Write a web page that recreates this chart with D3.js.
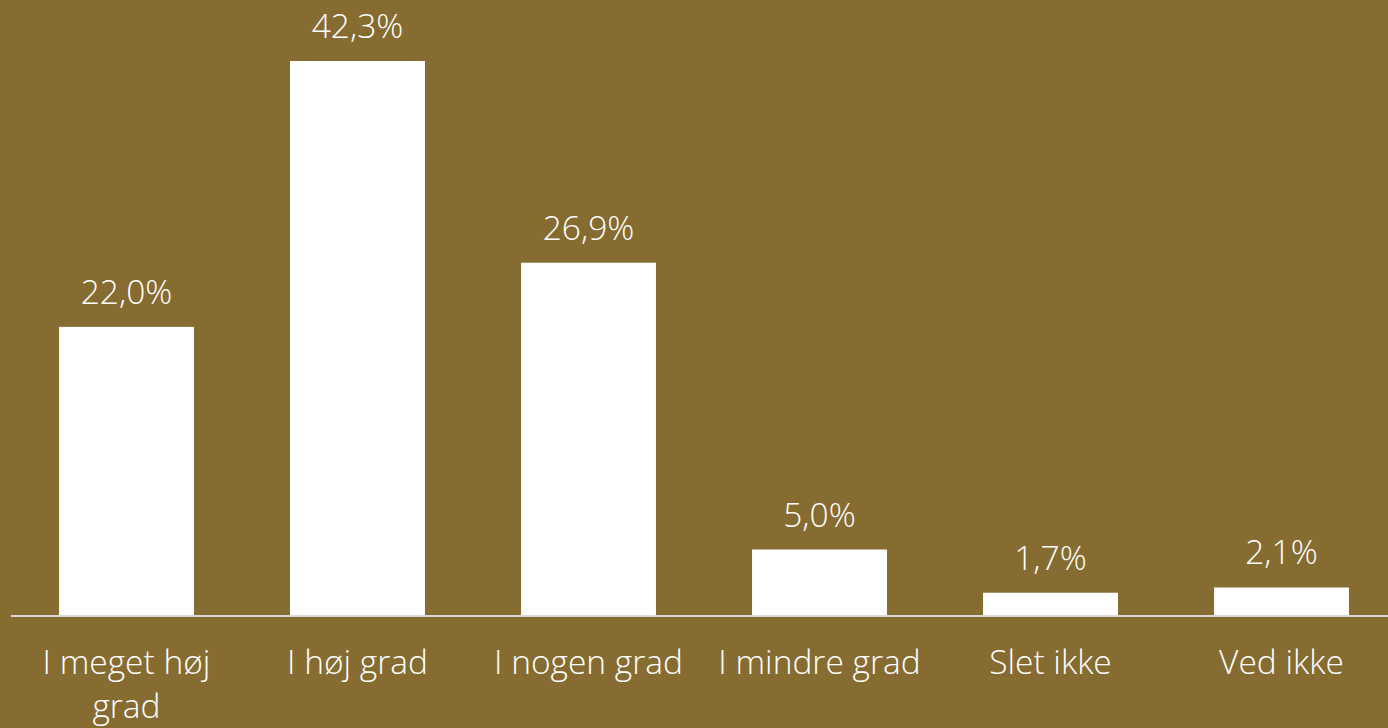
<!DOCTYPE html>
<html>
<head>
<meta charset="utf-8">
<script src="https://cdn.jsdelivr.net/npm/d3@7"></script>
<style>
  html, body { margin: 0; padding: 0; background: #866C30; }
  svg { display: block; }
  text { font-family: "Open Sans", sans-serif; font-weight: 300; fill: #ffffff; }
</style>
</head>
<body>
<svg id="chart" width="1388" height="728"></svg>
<script>
const categories = ["I meget høj grad", "I høj grad", "I nogen grad", "I mindre grad", "Slet ikke", "Ved ikke"];
const values = [22.0, 42.3, 26.9, 5.0, 1.7, 2.1];
const valueLabels = ["22,0%", "42,3%", "26,9%", "5,0%", "1,7%", "2,1%"];

const W = 1388, H = 728;
const svg = d3.select("#chart");
svg.append("rect").attr("width", W).attr("height", H).attr("fill", "#866C30");

const x = d3.scaleBand().domain(categories).range([11, 1397]).paddingInner(0.416).paddingOuter(0.208);
const y = d3.scaleLinear().domain([0, 42.3]).range([615, 61]);

const data = categories.map((c, i) => ({ c, v: values[i], l: valueLabels[i] }));

svg.selectAll("rect.bar").data(data).enter().append("rect")
  .attr("class", "bar")
  .attr("x", d => x(d.c))
  .attr("width", x.bandwidth())
  .attr("y", d => y(d.v))
  .attr("height", d => y(0) - y(d.v))
  .attr("fill", "#ffffff");

svg.append("line")
  .attr("x1", 11).attr("x2", W)
  .attr("y1", y(0) + 1).attr("y2", y(0) + 1)
  .attr("stroke", "#d9d9d9").attr("stroke-width", 2);

svg.selectAll("text.val").data(data).enter().append("text")
  .attr("class", "val")
  .attr("x", d => x(d.c) + x.bandwidth() / 2)
  .attr("y", d => y(d.v) - 23)
  .attr("text-anchor", "middle")
  .style("font-size", "33.5px")
  .text(d => d.l);

const labels = svg.selectAll("text.cat").data(data).enter().append("text")
  .attr("class", "cat")
  .attr("x", d => x(d.c) + x.bandwidth() / 2)
  .attr("y", 674)
  .attr("text-anchor", "middle")
  .style("font-size", "33.5px");

labels.each(function(d) {
  const t = d3.select(this);
  const words = d.c.split(" ");
  const cx = x(d.c) + x.bandwidth() / 2;
  let line = [];
  let ts = t.append("tspan").attr("x", cx).attr("dy", 0);
  words.forEach(w => {
    line.push(w);
    ts.text(line.join(" "));
    if (ts.node().getComputedTextLength() > 225 && line.length > 1) {
      line.pop();
      ts.text(line.join(" "));
      line = [w];
      ts = t.append("tspan").attr("x", cx).attr("dy", 44).text(w);
    }
  });
});
</script>
</body>
</html>
